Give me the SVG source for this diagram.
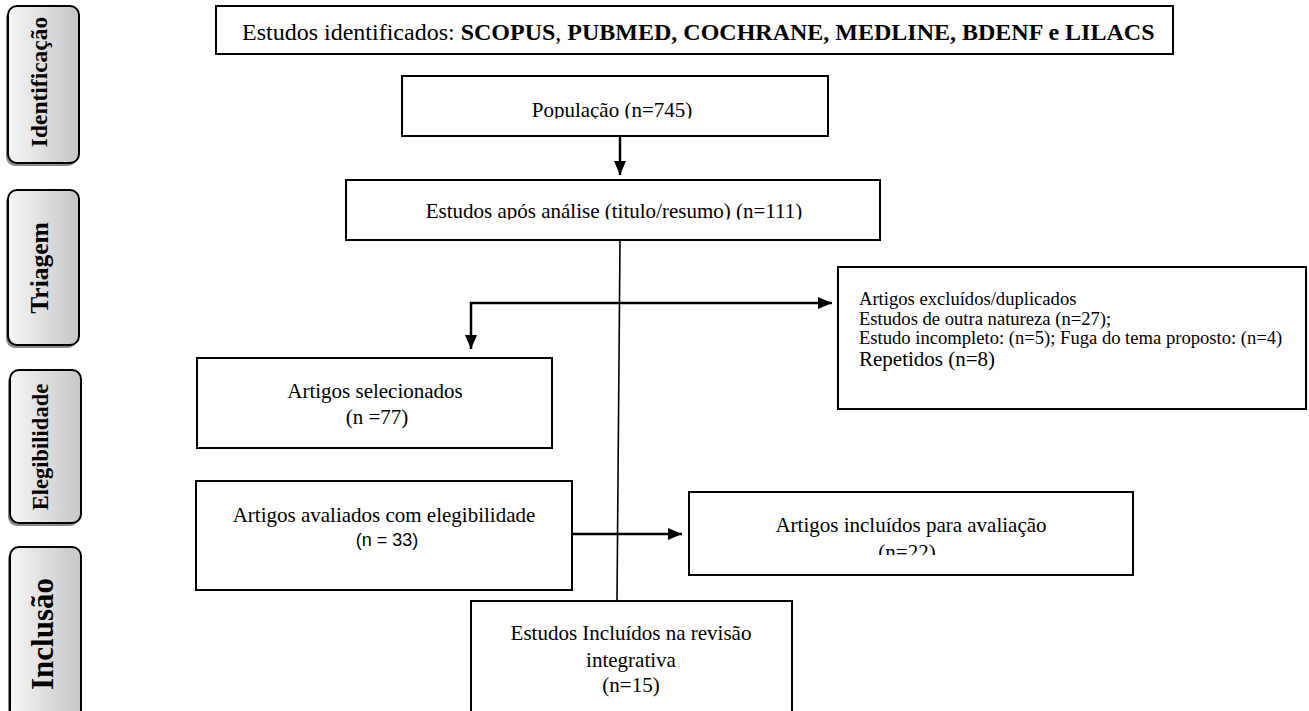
<svg xmlns="http://www.w3.org/2000/svg" width="1309" height="711" viewBox="0 0 1309 711">
  <style>
    .box { fill: #ffffff; stroke: #000000; stroke-width: 2; }
    .t { font-family: "Liberation Serif", "Times New Roman", serif; font-size: 21px; fill: #000000; }
    .title { font-family: "Liberation Serif", "Times New Roman", serif; font-size: 24px; fill: #000000; }
    .ts { font-family: "Liberation Serif", "Times New Roman", serif; font-size: 18.6px; fill: #000000; }
    .sans { font-family: "Liberation Sans", Arial, sans-serif; font-size: 18px; fill: #000000; }
    .phase { fill: url(#phaseGrad); stroke: #000000; stroke-width: 2; }
    .shadow { fill: #8a8a8a; }
    .pt { font-family: "Liberation Serif", "Times New Roman", serif; font-weight: bold; fill: #000000; }
    .conn { stroke: #000000; stroke-width: 2.5; fill: none; }
    .thin { stroke: #000000; stroke-width: 1.6; fill: none; }
  </style>
  <defs>
    <linearGradient id="phaseGrad" x1="0" y1="0" x2="1" y2="0">
      <stop offset="0" stop-color="#f6f6f6"/>
      <stop offset="1" stop-color="#c6c6c6"/>
    </linearGradient>
    <marker id="ah" viewBox="0 0 14 12" refX="14" refY="6" markerWidth="14" markerHeight="12" markerUnits="userSpaceOnUse" orient="auto-start-reverse">
      <path d="M0,0 L14,6 L0,12 Z" fill="#000000"/>
    </marker>
    <clipPath id="clipPop"><rect x="400" y="70" width="440" height="48.5"/></clipPath>
    <clipPath id="clipApos"><rect x="340" y="175" width="550" height="44.5"/></clipPath>
    <clipPath id="clipInc"><rect x="680" y="490" width="460" height="65"/></clipPath>
  </defs>

  <!-- Phase labels -->
  <g id="phase-identificacao">
    <rect class="shadow" x="6" y="9" width="71" height="157" rx="9"/>
    <rect class="phase" x="8" y="6" width="71" height="157" rx="9"/>
    <text class="pt" font-size="23.5" text-anchor="middle" transform="translate(47,82) rotate(-90)">Identificação</text>
  </g>
  <g id="phase-triagem">
    <rect class="shadow" x="6" y="193" width="71" height="155" rx="9"/>
    <rect class="phase" x="8" y="190" width="71" height="155" rx="9"/>
    <text class="pt" font-size="25.5" text-anchor="middle" transform="translate(48,268) rotate(-90)">Triagem</text>
  </g>
  <g id="phase-elegibilidade">
    <rect class="shadow" x="8" y="373" width="71" height="153" rx="9"/>
    <rect class="phase" x="10" y="370" width="71" height="153" rx="9"/>
    <text class="pt" font-size="22.5" text-anchor="middle" transform="translate(48,447) rotate(-90)">Elegibilidade</text>
  </g>
  <g id="phase-inclusao">
    <rect class="shadow" x="8" y="550" width="71" height="180" rx="9"/>
    <rect class="phase" x="10" y="547" width="71" height="180" rx="9"/>
    <text class="pt" font-size="31" text-anchor="middle" transform="translate(53,634) rotate(-90)">Inclusão</text>
  </g>

  <!-- Connectors -->
  <g id="connectors">
    <line class="conn" x1="620" y1="136" x2="620" y2="175" marker-end="url(#ah)"/>
    <line class="thin" x1="620" y1="240" x2="617" y2="601"/>
    <polyline class="conn" points="471,349 471,303 832,303" marker-start="url(#ah)" marker-end="url(#ah)"/>
    <line class="conn" x1="572" y1="534" x2="682" y2="534" marker-end="url(#ah)"/>
  </g>

  <!-- Nodes -->
  <g id="node-fontes">
    <rect class="box" x="216" y="6" width="957" height="48"/>
    <text class="title" x="242" y="40">Estudos identificados: <tspan font-weight="bold">SCOPUS</tspan>, <tspan font-weight="bold">PUBMED, COCHRANE, MEDLINE, BDENF e LILACS</tspan></text>
  </g>

  <g id="node-populacao">
    <rect class="box" x="402" y="76" width="426" height="60"/>
    <text class="t" x="612" y="117" text-anchor="middle" clip-path="url(#clipPop)">População (n=745)</text>
  </g>

  <g id="node-apos-analise">
    <rect class="box" x="346" y="180" width="534" height="60"/>
    <text class="t" x="614" y="218" text-anchor="middle" clip-path="url(#clipApos)">Estudos após análise (titulo/resumo) (n=111)</text>
  </g>

  <g id="node-excluidos">
    <rect class="box" x="838" y="267" width="468" height="142"/>
    <text class="ts" x="859" y="305">Artigos excluídos/duplicados</text>
    <text class="ts" x="859" y="325">Estudos de outra natureza (n=27);</text>
    <text class="ts" x="859" y="344">Estudo incompleto: (n=5); Fuga do tema proposto: (n=4)</text>
    <text class="t" x="859" y="366">Repetidos (n=8)</text>
  </g>

  <g id="node-selecionados">
    <rect class="box" x="197" y="358" width="355" height="90"/>
    <text class="t" x="375" y="398" text-anchor="middle">Artigos selecionados</text>
    <text class="t" x="377" y="424" text-anchor="middle">(n =77)</text>
  </g>

  <g id="node-avaliados">
    <rect class="box" x="196" y="481" width="376" height="109"/>
    <text class="t" x="384" y="522" text-anchor="middle">Artigos avaliados com elegibilidade</text>
    <text class="sans" x="387" y="546" text-anchor="middle">(n = 33)</text>
  </g>

  <g id="node-incluidos-avaliacao">
    <rect class="box" x="689" y="492" width="444" height="83"/>
    <text class="t" x="911" y="532" text-anchor="middle">Artigos incluídos para avaliação</text>
    <text class="t" x="907" y="559" text-anchor="middle" clip-path="url(#clipInc)">(n=22)</text>
  </g>

  <g id="node-incluidos-revisao">
    <rect class="box" x="471" y="601" width="321" height="130"/>
    <text class="t" x="631" y="640" text-anchor="middle">Estudos Incluídos na revisão</text>
    <text class="t" x="631" y="667" text-anchor="middle">integrativa</text>
    <text class="t" x="631" y="692" text-anchor="middle">(n=15)</text>
  </g>
</svg>
